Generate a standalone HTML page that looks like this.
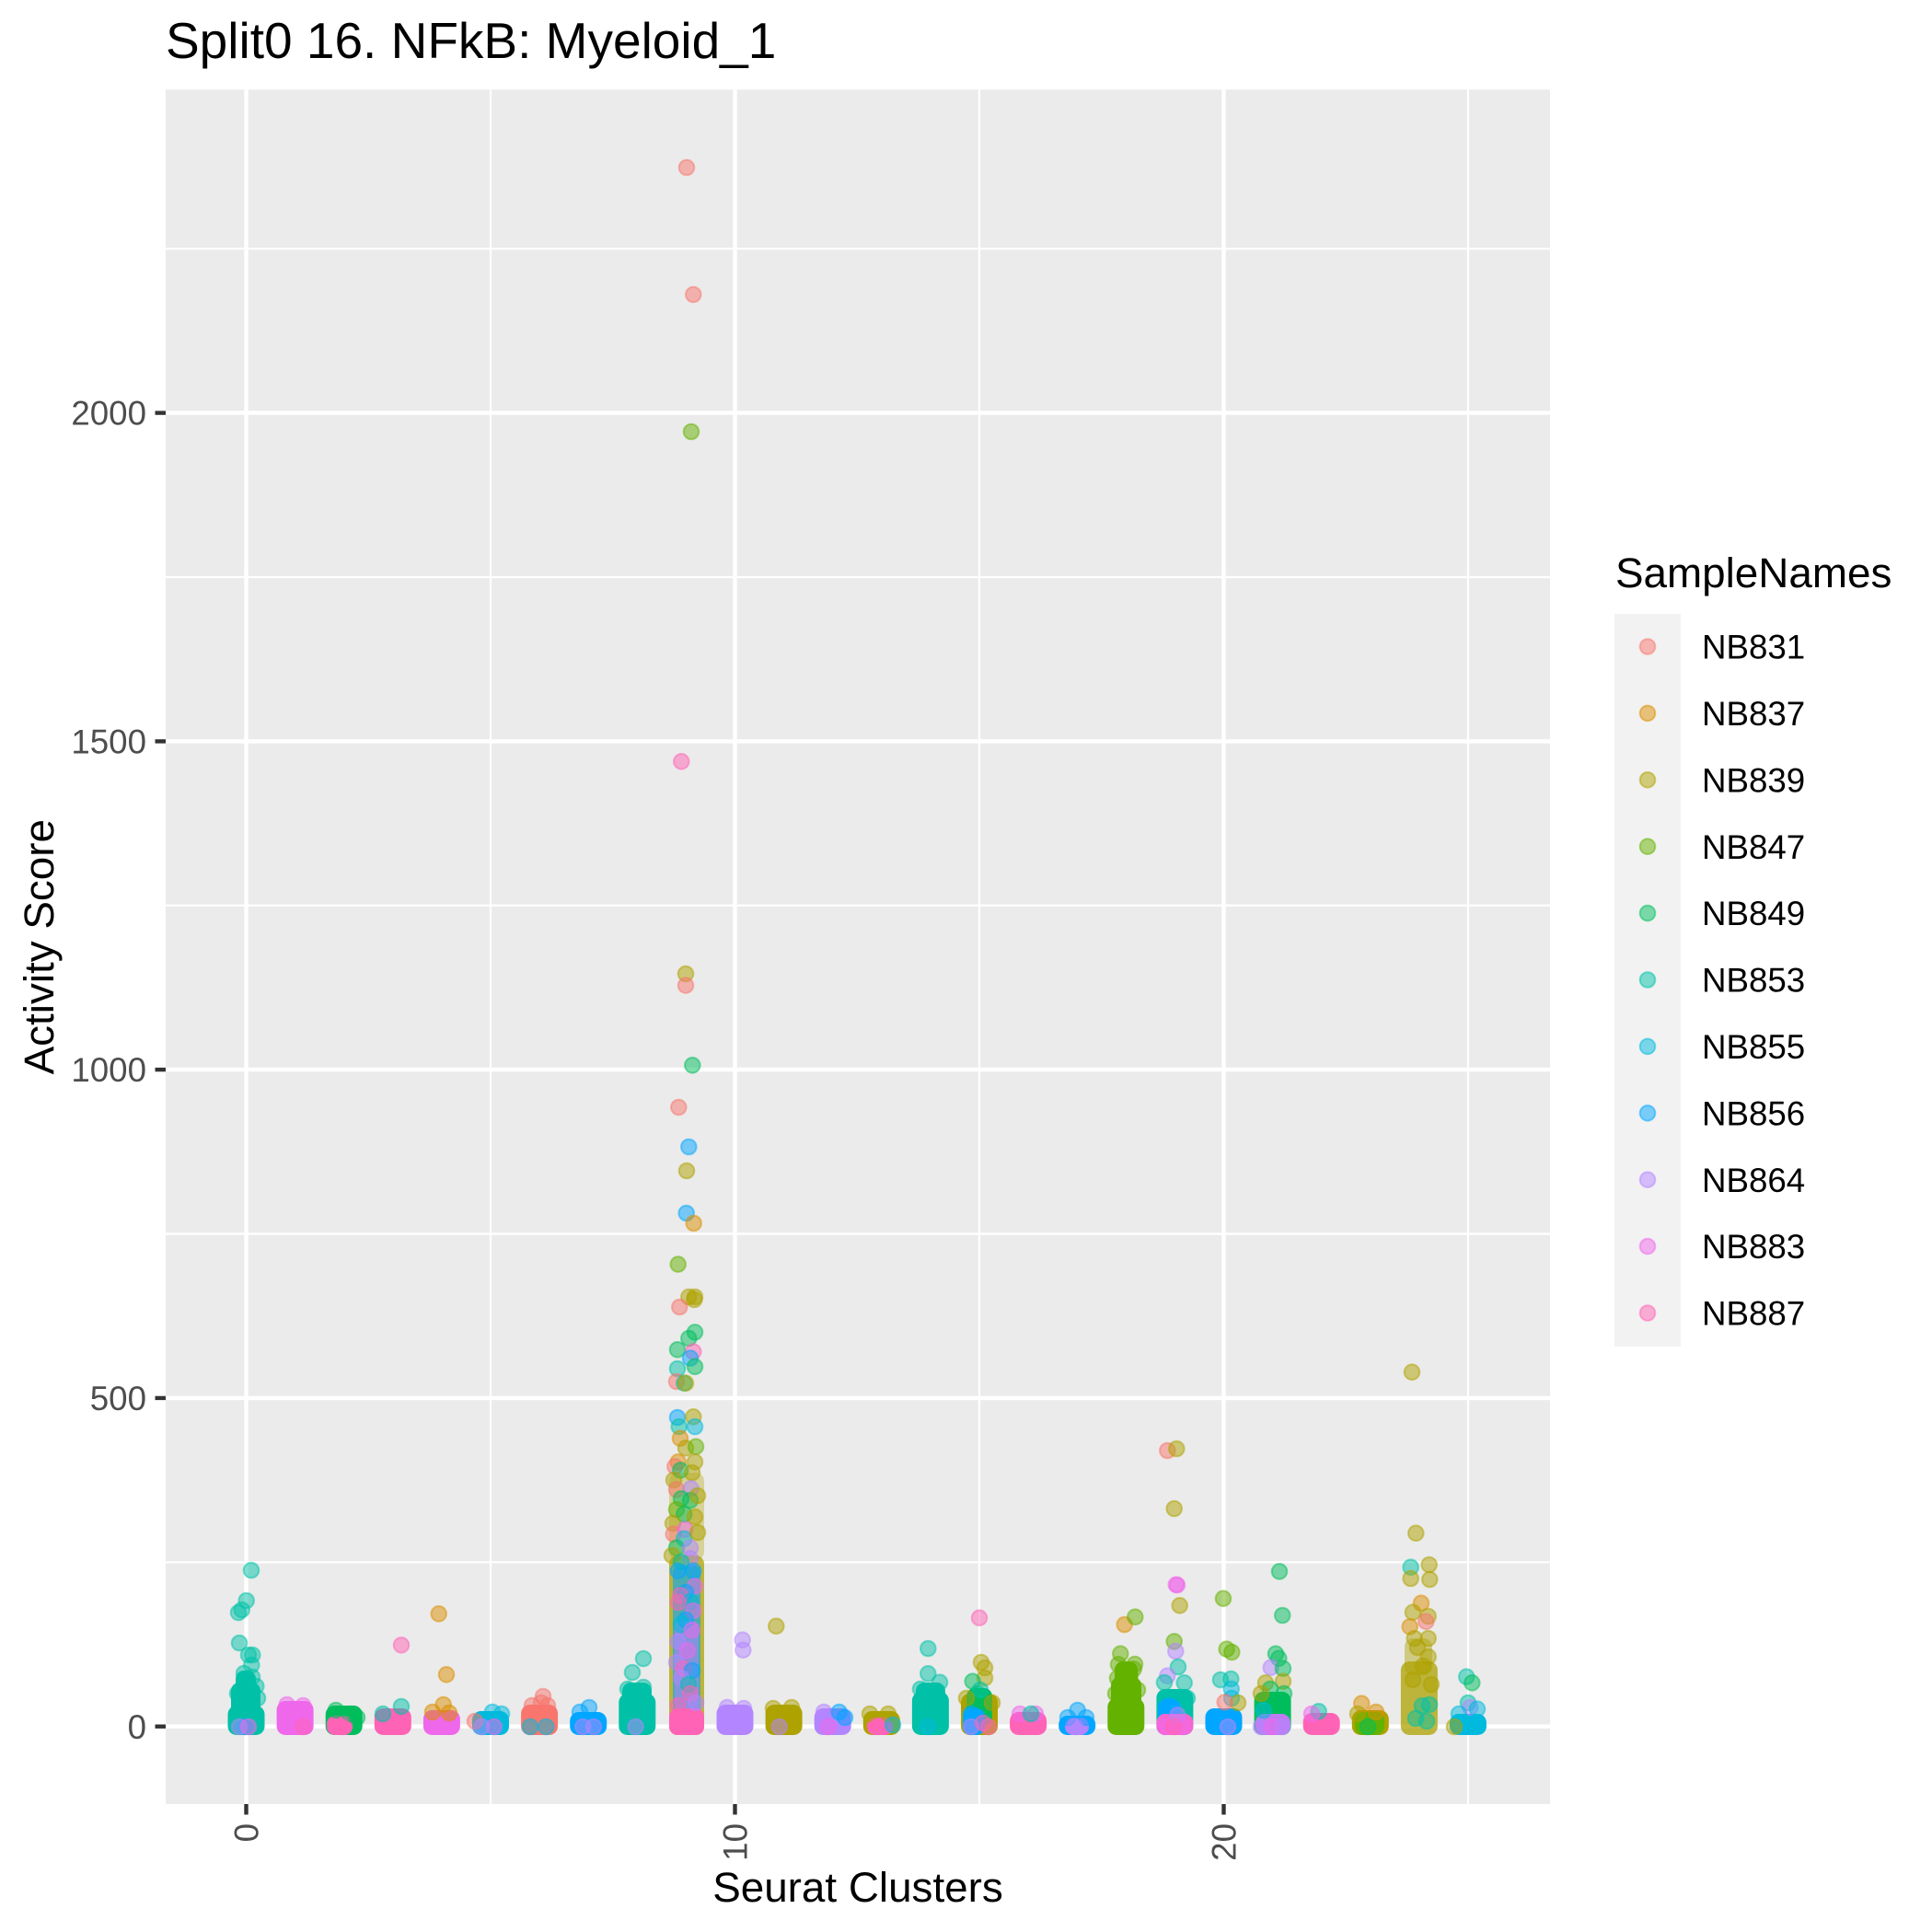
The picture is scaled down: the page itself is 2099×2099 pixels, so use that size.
<!DOCTYPE html>
<html>
<head>
<meta charset="utf-8">
<style>
html,body{margin:0;padding:0;background:#fff;}
svg{display:block;}
text{font-family:"Liberation Sans",Arial,sans-serif;}
.p circle{fill-opacity:.5;stroke-opacity:.5;stroke-width:2;}
.c1{fill:#F8766D;stroke:#F8766D}
.c2{fill:#DB8E00;stroke:#DB8E00}
.c3{fill:#AEA200;stroke:#AEA200}
.c4{fill:#64B200;stroke:#64B200}
.c5{fill:#00BD5C;stroke:#00BD5C}
.c6{fill:#00C1A7;stroke:#00C1A7}
.c7{fill:#00BADE;stroke:#00BADE}
.c8{fill:#00A6FF;stroke:#00A6FF}
.c9{fill:#B385FF;stroke:#B385FF}
.c10{fill:#EF67EB;stroke:#EF67EB}
.c11{fill:#FF63B6;stroke:#FF63B6}
</style>
</head>
<body>
<svg width="2099" height="2099" viewBox="0 0 2099 2099" xmlns="http://www.w3.org/2000/svg">
<rect x="0" y="0" width="2099" height="2099" fill="#FFFFFF"/>
<text x="180" y="63" font-size="55" fill="#000">Split0 16. NFkB: Myeloid_1</text>
<rect x="180" y="97.3" width="1504" height="1862.7" fill="#EBEBEB"/>
<g stroke="#FFFFFF" stroke-width="2.2">
<line x1="180" x2="1684" y1="1697.3" y2="1697.3"/>
<line x1="180" x2="1684" y1="1340.5" y2="1340.5"/>
<line x1="180" x2="1684" y1="983.7" y2="983.7"/>
<line x1="180" x2="1684" y1="627" y2="627"/>
<line x1="180" x2="1684" y1="270.2" y2="270.2"/>
<line y1="97.3" y2="1960" x1="533" x2="533"/>
<line y1="97.3" y2="1960" x1="1064" x2="1064"/>
<line y1="97.3" y2="1960" x1="1595" x2="1595"/>
</g>
<g stroke="#FFFFFF" stroke-width="4.4">
<line x1="180" x2="1684" y1="1875.7" y2="1875.7"/>
<line x1="180" x2="1684" y1="1518.9" y2="1518.9"/>
<line x1="180" x2="1684" y1="1162.1" y2="1162.1"/>
<line x1="180" x2="1684" y1="805.4" y2="805.4"/>
<line x1="180" x2="1684" y1="448.6" y2="448.6"/>
<line y1="97.3" y2="1960" x1="267.5" x2="267.5"/>
<line y1="97.3" y2="1960" x1="798.5" x2="798.5"/>
<line y1="97.3" y2="1960" x1="1329.5" x2="1329.5"/>
</g>

<g>
<rect x="247.5" y="1853" width="40" height="32" rx="9.5" fill="#00C1A7"/>
<rect x="251" y="1828" width="32" height="50" rx="9" fill="#00C1A7"/>
<rect x="256" y="1815" width="22" height="40" rx="9" fill="#00C1A7"/>
<rect x="300.6" y="1848" width="40" height="37" rx="9.5" fill="#EF67EB"/>
<rect x="353.7" y="1853" width="40" height="32" rx="9.5" fill="#00BD5C"/>
<rect x="355" y="1864" width="28" height="21" rx="9" fill="#FF63B6"/>
<rect x="406.8" y="1856" width="40" height="29" rx="9.5" fill="#FF63B6"/>
<rect x="459.9" y="1858" width="40" height="27" rx="9.5" fill="#EF67EB"/>
<rect x="513" y="1859" width="40" height="26" rx="9.5" fill="#00BADE"/>
<rect x="566.1" y="1852" width="40" height="33" rx="9.5" fill="#F8766D"/>
<rect x="619.2" y="1860" width="40" height="25" rx="9.5" fill="#00A6FF"/>
<rect x="672.3" y="1840" width="40" height="45" rx="9.5" fill="#00C1A7"/>
<rect x="676" y="1828" width="32" height="30" rx="9" fill="#00C1A7"/>
<rect x="727" y="1600" width="38" height="95" rx="9" fill="#AEA200" opacity="0.35"/>
<rect x="727" y="1690" width="38" height="195" rx="9" fill="#AEA200" opacity="0.75"/>
<rect x="731" y="1700" width="30" height="170" rx="9" fill="#00A6FF" opacity="0.6"/>
<rect x="733" y="1760" width="26" height="100" rx="9" fill="#9A8BF0" opacity="0.7"/>
<rect x="727" y="1856" width="38" height="29" rx="9" fill="#FF63B6"/>
<rect x="778.5" y="1852" width="40" height="33" rx="9.5" fill="#B385FF"/>
<rect x="831.6" y="1852" width="40" height="33" rx="9.5" fill="#AEA200"/>
<rect x="884.7" y="1856" width="40" height="29" rx="9.5" fill="#B385FF"/>
<rect x="937.8" y="1859" width="40" height="26" rx="9.5" fill="#AEA200"/>
<rect x="942" y="1866" width="28" height="19" rx="9" fill="#FF63B6"/>
<rect x="990.9" y="1838" width="40" height="47" rx="9.5" fill="#00C1A7"/>
<rect x="995" y="1828" width="32" height="30" rx="9" fill="#00C1A7"/>
<rect x="1044" y="1840" width="40" height="45" rx="9.5" fill="#AEA200"/>
<rect x="1050" y="1834" width="28" height="40" rx="9" fill="#00BD5C"/>
<rect x="1046" y="1856" width="24" height="29" rx="9" fill="#00A6FF"/>
<rect x="1097.1" y="1860" width="40" height="25" rx="9.5" fill="#FF63B6"/>
<rect x="1150.2" y="1864" width="40" height="21" rx="9.5" fill="#00A6FF"/>
<rect x="1157" y="1866" width="26" height="19" rx="9" fill="#B385FF"/>
<rect x="1203.3" y="1845" width="40" height="40" rx="9.5" fill="#64B200"/>
<rect x="1207" y="1822" width="33" height="40" rx="9" fill="#64B200"/>
<rect x="1211" y="1805" width="25" height="30" rx="9" fill="#64B200"/>
<rect x="1256.4" y="1835" width="40" height="50" rx="9.5" fill="#00C1A7"/>
<rect x="1258" y="1846" width="25" height="32" rx="9" fill="#00A6FF"/>
<rect x="1256.4" y="1862" width="40" height="23" rx="9.5" fill="#F866CF"/>
<rect x="1309.5" y="1856" width="40" height="29" rx="9.5" fill="#00A6FF"/>
<rect x="1362.6" y="1838" width="40" height="47" rx="9.5" fill="#00BD5C"/>
<rect x="1364" y="1862" width="38" height="23" rx="9.5" fill="#C07BF0"/>
<rect x="1415.7" y="1861" width="40" height="24" rx="9.5" fill="#FF63B6"/>
<rect x="1468.8" y="1858" width="40" height="27" rx="9.5" fill="#AEA200"/>
<rect x="1472" y="1860" width="32" height="25" rx="9" fill="#64B200"/>
<rect x="1521.9" y="1805" width="40" height="80" rx="9.5" fill="#AEA200" opacity="0.75"/>
<rect x="1526" y="1780" width="30" height="40" rx="9" fill="#AEA200" opacity="0.45"/>
<rect x="1575" y="1862" width="40" height="23" rx="9.5" fill="#00BADE"/>
</g>

<g class="p">
<circle r="8.3" class="c6" cx="273" cy="1706"/>
<circle r="8.3" class="c6" cx="267.7" cy="1739"/>
<circle r="8.3" class="c6" cx="262.7" cy="1749"/>
<circle r="8.3" class="c6" cx="259" cy="1752"/>
<circle r="8.3" class="c6" cx="260" cy="1785"/>
<circle r="8.3" class="c6" cx="274.3" cy="1798"/>
<circle r="8.3" class="c6" cx="270" cy="1798"/>
<circle r="8.3" class="c6" cx="273.3" cy="1809"/>
<circle r="8.3" class="c6" cx="265" cy="1818"/>
<circle r="8.3" class="c6" cx="274" cy="1822"/>
<circle r="8.3" class="c6" cx="278.3" cy="1832"/>
<circle r="8.3" class="c6" cx="265" cy="1832"/>
<circle r="8.3" class="c6" cx="258" cy="1840"/>
<circle r="8.3" class="c6" cx="280" cy="1845"/>
<circle r="8.3" class="c8" cx="266" cy="1876"/>
<circle r="8.3" class="c9" cx="260" cy="1876"/>
<circle r="8.3" class="c10" cx="270" cy="1876"/>
<circle r="8.3" class="c10" cx="311.7" cy="1852"/>
<circle r="8.3" class="c10" cx="329.3" cy="1853"/>
<circle r="8.3" class="c10" cx="318" cy="1858"/>
<circle r="8.3" class="c11" cx="329.3" cy="1876"/>
<circle r="8.3" class="c5" cx="365" cy="1858"/>
<circle r="8.3" class="c5" cx="380" cy="1862"/>
<circle r="8.3" class="c5" cx="388" cy="1866"/>
<circle r="8.3" class="c11" cx="372" cy="1876"/>
<circle r="8.3" class="c6" cx="436" cy="1854"/>
<circle r="8.3" class="c6" cx="416" cy="1862"/>
<circle r="8.3" class="c11" cx="436" cy="1787.3"/>
<circle r="8.3" class="c2" cx="476.7" cy="1753.3"/>
<circle r="8.3" class="c2" cx="485" cy="1819.3"/>
<circle r="8.3" class="c2" cx="481.7" cy="1852"/>
<circle r="8.3" class="c2" cx="470" cy="1860"/>
<circle r="8.3" class="c2" cx="488" cy="1861"/>
<circle r="8.3" class="c7" cx="535" cy="1860"/>
<circle r="8.3" class="c7" cx="545" cy="1862"/>
<circle r="8.3" class="c1" cx="516" cy="1870"/>
<circle r="8.3" class="c10" cx="536.7" cy="1876"/>
<circle r="8.3" class="c9" cx="523.3" cy="1876"/>
<circle r="8.3" class="c1" cx="590" cy="1843"/>
<circle r="8.3" class="c1" cx="578" cy="1853"/>
<circle r="8.3" class="c1" cx="595" cy="1853"/>
<circle r="8.3" class="c1" cx="588" cy="1850"/>
<circle r="8.3" class="c7" cx="576" cy="1876"/>
<circle r="8.3" class="c7" cx="593.3" cy="1876"/>
<circle r="8.3" class="c8" cx="640" cy="1855"/>
<circle r="8.3" class="c8" cx="630" cy="1860"/>
<circle r="8.3" class="c9" cx="633.3" cy="1876"/>
<circle r="8.3" class="c9" cx="645" cy="1876"/>
<circle r="8.3" class="c6" cx="699" cy="1802"/>
<circle r="8.3" class="c6" cx="687" cy="1817"/>
<circle r="8.3" class="c6" cx="682" cy="1835"/>
<circle r="8.3" class="c6" cx="699" cy="1833"/>
<circle r="8.3" class="c6" cx="695" cy="1840"/>
<circle r="8.3" class="c9" cx="690.6" cy="1876"/>
<circle r="8.3" class="c1" cx="746" cy="182"/>
<circle r="8.3" class="c1" cx="753.3" cy="320"/>
<circle r="8.3" class="c4" cx="751" cy="469"/>
<circle r="8.3" class="c11" cx="740.3" cy="827.3"/>
<circle r="8.3" class="c3" cx="745" cy="1058"/>
<circle r="8.3" class="c1" cx="745" cy="1070.6"/>
<circle r="8.3" class="c5" cx="752.3" cy="1157.3"/>
<circle r="8.3" class="c1" cx="737.3" cy="1203"/>
<circle r="8.3" class="c8" cx="748.3" cy="1246"/>
<circle r="8.3" class="c3" cx="746" cy="1272"/>
<circle r="8.3" class="c8" cx="745.7" cy="1318"/>
<circle r="8.3" class="c2" cx="753.7" cy="1329"/>
<circle r="8.3" class="c4" cx="736.7" cy="1373.6"/>
<circle r="8.3" class="c3" cx="748.3" cy="1409"/>
<circle r="8.3" class="c3" cx="755" cy="1409"/>
<circle r="8.3" class="c3" cx="754.3" cy="1412"/>
<circle r="8.3" class="c1" cx="738.3" cy="1420"/>
<circle r="8.3" class="c5" cx="755" cy="1447.4"/>
<circle r="8.3" class="c5" cx="748.3" cy="1454"/>
<circle r="8.3" class="c5" cx="736" cy="1466.3"/>
<circle r="8.3" class="c11" cx="753.3" cy="1468.5"/>
<circle r="8.3" class="c8" cx="750" cy="1475.6"/>
<circle r="8.3" class="c5" cx="755" cy="1484.8"/>
<circle r="8.3" class="c6" cx="736" cy="1487"/>
<circle r="8.3" class="c1" cx="735" cy="1501"/>
<circle r="8.3" class="c6" cx="743.3" cy="1502.7"/>
<circle r="8.3" class="c3" cx="745" cy="1502.7"/>
<circle r="8.3" class="c8" cx="736" cy="1540"/>
<circle r="8.3" class="c6" cx="737.7" cy="1550"/>
<circle r="8.3" class="c3" cx="753.3" cy="1539.3"/>
<circle r="8.3" class="c7" cx="755" cy="1550"/>
<circle r="8.3" class="c2" cx="739" cy="1562.7"/>
<circle r="8.3" class="c3" cx="745" cy="1573.3"/>
<circle r="8.3" class="c4" cx="756" cy="1571.7"/>
<circle r="8.3" class="c3" cx="755" cy="1588.3"/>
<circle r="8.3" class="c2" cx="736.7" cy="1588.3"/>
<circle r="8.3" class="c1" cx="733.3" cy="1593.3"/>
<circle r="8.3" class="c5" cx="739.3" cy="1597.3"/>
<circle r="8.3" class="c3" cx="752" cy="1600"/>
<circle r="8.3" class="c3" cx="732" cy="1608"/>
<circle r="8.3" class="c1" cx="735" cy="1618.3"/>
<circle r="8.3" class="c9" cx="750.7" cy="1617.3"/>
<circle r="8.3" class="c5" cx="740" cy="1628.3"/>
<circle r="8.3" class="c5" cx="750" cy="1630"/>
<circle r="8.3" class="c3" cx="758" cy="1625"/>
<circle r="8.3" class="c4" cx="735" cy="1640"/>
<circle r="8.3" class="c5" cx="743.3" cy="1645"/>
<circle r="8.3" class="c3" cx="755" cy="1648"/>
<circle r="8.3" class="c3" cx="731" cy="1655"/>
<circle r="8.3" class="c1" cx="731.7" cy="1666.7"/>
<circle r="8.3" class="c10" cx="744.3" cy="1661.7"/>
<circle r="8.3" class="c7" cx="743.3" cy="1671.7"/>
<circle r="8.3" class="c3" cx="758" cy="1665"/>
<circle r="8.3" class="c5" cx="735" cy="1681.7"/>
<circle r="8.3" class="c9" cx="750" cy="1681.7"/>
<circle r="8.3" class="c3" cx="730" cy="1690"/>
<circle r="8.3" class="c9" cx="750" cy="1693.3"/>
<circle r="8.3" class="c6" cx="740" cy="1697"/>
<circle r="8.3" class="c8" cx="736.7" cy="1706.7"/>
<circle r="8.3" class="c8" cx="753.3" cy="1706.7"/>
<circle r="8.3" class="c10" cx="755" cy="1723.3"/>
<circle r="8.3" class="c8" cx="745" cy="1730"/>
<circle r="8.3" class="c11" cx="739.3" cy="1733.3"/>
<circle r="8.3" class="c7" cx="750" cy="1740"/>
<circle r="8.3" class="c11" cx="737" cy="1741"/>
<circle r="8.3" class="c10" cx="753.3" cy="1750"/>
<circle r="8.3" class="c8" cx="745" cy="1760"/>
<circle r="8.3" class="c7" cx="740" cy="1765"/>
<circle r="8.3" class="c10" cx="751.7" cy="1771"/>
<circle r="8.3" class="c9" cx="736.7" cy="1783.3"/>
<circle r="8.3" class="c10" cx="746.7" cy="1793.3"/>
<circle r="8.3" class="c9" cx="735" cy="1806"/>
<circle r="8.3" class="c11" cx="742.7" cy="1812.7"/>
<circle r="8.3" class="c8" cx="752" cy="1815"/>
<circle r="8.3" class="c9" cx="740" cy="1823"/>
<circle r="8.3" class="c6" cx="748" cy="1830"/>
<circle r="8.3" class="c11" cx="750" cy="1840"/>
<circle r="8.3" class="c9" cx="756" cy="1850"/>
<circle r="8.3" class="c11" cx="736.7" cy="1853"/>
<circle r="8.3" class="c9" cx="806.7" cy="1781.7"/>
<circle r="8.3" class="c9" cx="807.3" cy="1792.7"/>
<circle r="8.3" class="c9" cx="790" cy="1855"/>
<circle r="8.3" class="c9" cx="808" cy="1856"/>
<circle r="8.3" class="c3" cx="843.3" cy="1766.7"/>
<circle r="8.3" class="c3" cx="840" cy="1856"/>
<circle r="8.3" class="c3" cx="860" cy="1855"/>
<circle r="8.3" class="c9" cx="846.7" cy="1876"/>
<circle r="8.3" class="c9" cx="895" cy="1860"/>
<circle r="8.3" class="c8" cx="911.7" cy="1860"/>
<circle r="8.3" class="c8" cx="918" cy="1866"/>
<circle r="8.3" class="c10" cx="900" cy="1876"/>
<circle r="8.3" class="c3" cx="965" cy="1862"/>
<circle r="8.3" class="c3" cx="945" cy="1862"/>
<circle r="8.3" class="c11" cx="953" cy="1876"/>
<circle r="8.3" class="c7" cx="970" cy="1874"/>
<circle r="8.3" class="c6" cx="1008.3" cy="1791"/>
<circle r="8.3" class="c6" cx="1008.3" cy="1818.3"/>
<circle r="8.3" class="c6" cx="1021" cy="1827.7"/>
<circle r="8.3" class="c6" cx="1000" cy="1835"/>
<circle r="8.3" class="c6" cx="1015" cy="1838"/>
<circle r="8.3" class="c7" cx="1008" cy="1876"/>
<circle r="8.3" class="c11" cx="1064" cy="1757.7"/>
<circle r="8.3" class="c3" cx="1066" cy="1806"/>
<circle r="8.3" class="c3" cx="1070" cy="1812"/>
<circle r="8.3" class="c3" cx="1070" cy="1823"/>
<circle r="8.3" class="c5" cx="1056.7" cy="1826.7"/>
<circle r="8.3" class="c5" cx="1062" cy="1840"/>
<circle r="8.3" class="c6" cx="1065" cy="1836"/>
<circle r="8.3" class="c3" cx="1050" cy="1845"/>
<circle r="8.3" class="c3" cx="1078" cy="1850"/>
<circle r="8.3" class="c8" cx="1055" cy="1862"/>
<circle r="8.3" class="c9" cx="1055" cy="1876"/>
<circle r="8.3" class="c11" cx="1068" cy="1872"/>
<circle r="8.3" class="c11" cx="1074" cy="1876"/>
<circle r="8.3" class="c10" cx="1108" cy="1862"/>
<circle r="8.3" class="c10" cx="1125" cy="1862"/>
<circle r="8.3" class="c6" cx="1120" cy="1862"/>
<circle r="8.3" class="c8" cx="1170.7" cy="1858"/>
<circle r="8.3" class="c8" cx="1160" cy="1866"/>
<circle r="8.3" class="c8" cx="1180" cy="1866"/>
<circle r="8.3" class="c9" cx="1168" cy="1876"/>
<circle r="8.3" class="c2" cx="1221.7" cy="1765"/>
<circle r="8.3" class="c4" cx="1233.3" cy="1756.7"/>
<circle r="8.3" class="c4" cx="1217.3" cy="1796.7"/>
<circle r="8.3" class="c4" cx="1215" cy="1808.3"/>
<circle r="8.3" class="c4" cx="1214" cy="1823.3"/>
<circle r="8.3" class="c4" cx="1231.7" cy="1813.3"/>
<circle r="8.3" class="c4" cx="1233" cy="1808"/>
<circle r="8.3" class="c4" cx="1228" cy="1820"/>
<circle r="8.3" class="c4" cx="1236" cy="1836"/>
<circle r="8.3" class="c4" cx="1212" cy="1840"/>
<circle r="8.3" class="c1" cx="1268.3" cy="1576"/>
<circle r="8.3" class="c3" cx="1278.3" cy="1574"/>
<circle r="8.3" class="c3" cx="1275.7" cy="1639"/>
<circle r="8.3" class="c10" cx="1277.7" cy="1721.7"/>
<circle r="8.3" class="c10" cx="1279" cy="1722"/>
<circle r="8.3" class="c3" cx="1281.7" cy="1744.3"/>
<circle r="8.3" class="c4" cx="1275.7" cy="1783.3"/>
<circle r="8.3" class="c9" cx="1277.3" cy="1794"/>
<circle r="8.3" class="c6" cx="1280" cy="1811"/>
<circle r="8.3" class="c9" cx="1268.3" cy="1820.7"/>
<circle r="8.3" class="c6" cx="1286.7" cy="1828.3"/>
<circle r="8.3" class="c6" cx="1265" cy="1828"/>
<circle r="8.3" class="c6" cx="1290" cy="1845"/>
<circle r="8.3" class="c8" cx="1270" cy="1853.3"/>
<circle r="8.3" class="c9" cx="1279.3" cy="1863.3"/>
<circle r="8.3" class="c10" cx="1266" cy="1876"/>
<circle r="8.3" class="c10" cx="1285" cy="1876"/>
<circle r="8.3" class="c11" cx="1275" cy="1876"/>
<circle r="8.3" class="c4" cx="1329" cy="1736.7"/>
<circle r="8.3" class="c4" cx="1332.7" cy="1791.7"/>
<circle r="8.3" class="c4" cx="1338.3" cy="1795"/>
<circle r="8.3" class="c6" cx="1326" cy="1825"/>
<circle r="8.3" class="c6" cx="1337.3" cy="1824"/>
<circle r="8.3" class="c7" cx="1337.7" cy="1835"/>
<circle r="8.3" class="c7" cx="1338" cy="1845"/>
<circle r="8.3" class="c3" cx="1345" cy="1850"/>
<circle r="8.3" class="c1" cx="1330.7" cy="1849.3"/>
<circle r="8.3" class="c9" cx="1334" cy="1876"/>
<circle r="8.3" class="c5" cx="1390" cy="1707.3"/>
<circle r="8.3" class="c5" cx="1393.3" cy="1755"/>
<circle r="8.3" class="c5" cx="1386" cy="1796.7"/>
<circle r="8.3" class="c5" cx="1389.3" cy="1801.7"/>
<circle r="8.3" class="c9" cx="1380.7" cy="1811.7"/>
<circle r="8.3" class="c5" cx="1394" cy="1812.7"/>
<circle r="8.3" class="c3" cx="1375" cy="1828.3"/>
<circle r="8.3" class="c3" cx="1394" cy="1826.7"/>
<circle r="8.3" class="c5" cx="1380" cy="1835"/>
<circle r="8.3" class="c5" cx="1395" cy="1840"/>
<circle r="8.3" class="c3" cx="1370" cy="1840"/>
<circle r="8.3" class="c7" cx="1372.7" cy="1858.3"/>
<circle r="8.3" class="c9" cx="1370" cy="1876"/>
<circle r="8.3" class="c10" cx="1382" cy="1876"/>
<circle r="8.3" class="c9" cx="1393" cy="1876"/>
<circle r="8.3" class="c6" cx="1432.7" cy="1859.3"/>
<circle r="8.3" class="c10" cx="1425" cy="1862"/>
<circle r="8.3" class="c2" cx="1479.3" cy="1850.7"/>
<circle r="8.3" class="c2" cx="1495" cy="1860"/>
<circle r="8.3" class="c3" cx="1475" cy="1862"/>
<circle r="8.3" class="c5" cx="1486" cy="1876"/>
<circle r="8.3" class="c3" cx="1534" cy="1490.7"/>
<circle r="8.3" class="c3" cx="1538.3" cy="1665.7"/>
<circle r="8.3" class="c3" cx="1552.7" cy="1700"/>
<circle r="8.3" class="c6" cx="1532.7" cy="1702.7"/>
<circle r="8.3" class="c3" cx="1532.7" cy="1715"/>
<circle r="8.3" class="c3" cx="1553.3" cy="1716"/>
<circle r="8.3" class="c2" cx="1544" cy="1741.7"/>
<circle r="8.3" class="c3" cx="1535" cy="1751.7"/>
<circle r="8.3" class="c3" cx="1551.7" cy="1756"/>
<circle r="8.3" class="c1" cx="1549.3" cy="1761.7"/>
<circle r="8.3" class="c2" cx="1531.7" cy="1767.3"/>
<circle r="8.3" class="c3" cx="1536.7" cy="1780"/>
<circle r="8.3" class="c3" cx="1551.7" cy="1780"/>
<circle r="8.3" class="c3" cx="1540" cy="1790"/>
<circle r="8.3" class="c3" cx="1551.7" cy="1800"/>
<circle r="8.3" class="c3" cx="1546" cy="1810"/>
<circle r="8.3" class="c3" cx="1535" cy="1825"/>
<circle r="8.3" class="c3" cx="1555" cy="1830"/>
<circle r="8.3" class="c6" cx="1545" cy="1853.3"/>
<circle r="8.3" class="c6" cx="1553" cy="1852"/>
<circle r="8.3" class="c6" cx="1538" cy="1867"/>
<circle r="8.3" class="c6" cx="1550" cy="1870"/>
<circle r="8.3" class="c6" cx="1593.3" cy="1821.7"/>
<circle r="8.3" class="c5" cx="1599.3" cy="1828.3"/>
<circle r="8.3" class="c6" cx="1595" cy="1850"/>
<circle r="8.3" class="c9" cx="1597.3" cy="1855"/>
<circle r="8.3" class="c7" cx="1605" cy="1856.7"/>
<circle r="8.3" class="c7" cx="1585" cy="1862"/>
<circle r="8.3" class="c3" cx="1580" cy="1876"/>
</g>

<g stroke="#333333" stroke-width="4.4">
<line x1="168.5" x2="180" y1="1875.7" y2="1875.7"/>
<line x1="168.5" x2="180" y1="1518.9" y2="1518.9"/>
<line x1="168.5" x2="180" y1="1162.1" y2="1162.1"/>
<line x1="168.5" x2="180" y1="805.4" y2="805.4"/>
<line x1="168.5" x2="180" y1="448.6" y2="448.6"/>
<line y1="1960" y2="1971.5" x1="267.5" x2="267.5"/>
<line y1="1960" y2="1971.5" x1="798.5" x2="798.5"/>
<line y1="1960" y2="1971.5" x1="1329.5" x2="1329.5"/>
</g>
<g font-size="36.7" fill="#4D4D4D" text-anchor="end">
<text x="159" y="1888.8">0</text>
<text x="159" y="1532">500</text>
<text x="159" y="1175.2">1000</text>
<text x="159" y="818.5">1500</text>
<text x="159" y="461.7">2000</text>
</g>
<g font-size="36.7" fill="#4D4D4D" text-anchor="end">
<text transform="translate(280.5,1981) rotate(-90)">0</text>
<text transform="translate(811.5,1981) rotate(-90)">10</text>
<text transform="translate(1342.5,1981) rotate(-90)">20</text>
</g>
<text x="932" y="2066" font-size="45.8" fill="#000" text-anchor="middle">Seurat Clusters</text>
<text transform="translate(58,1028.7) rotate(-90)" font-size="45.8" fill="#000" text-anchor="middle">Activity Score</text>

<text x="1755" y="638" font-size="45.8" fill="#000">SampleNames</text>
<rect x="1754" y="667" width="72" height="796" fill="#F2F2F2"/>
<g class="p">
<circle r="8.3" class="c1" cx="1790" cy="702.5"/>
<circle r="8.3" class="c2" cx="1790" cy="774.9"/>
<circle r="8.3" class="c3" cx="1790" cy="847.3"/>
<circle r="8.3" class="c4" cx="1790" cy="919.7"/>
<circle r="8.3" class="c5" cx="1790" cy="992.1"/>
<circle r="8.3" class="c6" cx="1790" cy="1064.5"/>
<circle r="8.3" class="c7" cx="1790" cy="1136.9"/>
<circle r="8.3" class="c8" cx="1790" cy="1209.3"/>
<circle r="8.3" class="c9" cx="1790" cy="1281.7"/>
<circle r="8.3" class="c10" cx="1790" cy="1354.1"/>
<circle r="8.3" class="c11" cx="1790" cy="1426.5"/>
</g>
<g font-size="36.7" fill="#000">
<text x="1849" y="715.6">NB831</text>
<text x="1849" y="788">NB837</text>
<text x="1849" y="860.4">NB839</text>
<text x="1849" y="932.8">NB847</text>
<text x="1849" y="1005.2">NB849</text>
<text x="1849" y="1077.6">NB853</text>
<text x="1849" y="1150">NB855</text>
<text x="1849" y="1222.4">NB856</text>
<text x="1849" y="1294.8">NB864</text>
<text x="1849" y="1367.2">NB883</text>
<text x="1849" y="1439.6">NB887</text>
</g>
</svg>
</body>
</html>
